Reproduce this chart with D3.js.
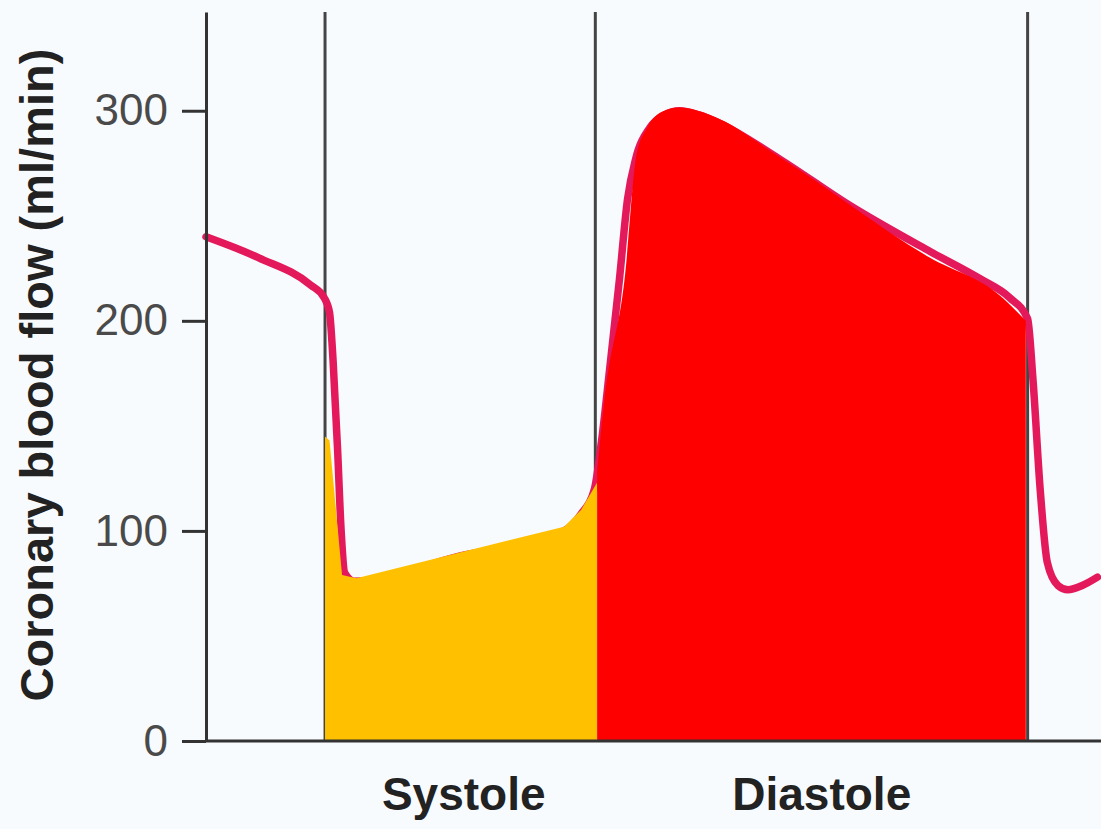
<!DOCTYPE html>
<html>
<head>
<meta charset="utf-8">
<script src="https://cdn.jsdelivr.net/npm/d3@7"></script>
<style>
  html, body { margin: 0; padding: 0; background: #f8fbfd; }
  svg { display: block; }
</style>
</head>
<body>
<svg id="chart" width="1101" height="829"></svg>
<script>
// time in arbitrary units (0 = y axis), flow in ml/min
var flowCurve = [
  [0, 240], [59, 230], [117, 217], [132, 211], [138, 204], [142, 181],
  [147, 139], [151, 100], [155, 80], [166, 76], [283, 88], [400, 100],
  [419, 108], [434, 120], [442, 143], [451, 177], [462, 220], [471, 258],
  [480, 277], [496, 292], [512, 298], [529, 300], [551, 298], [574, 294],
  [641, 277], [719, 255], [809, 233], [865, 220], [898, 211], [918, 201],
  [924, 172], [932, 120], [940, 85], [952, 74], [963, 72], [979, 74], [996, 78]
];
var systoleFill = [
  [133, 145], [138, 143], [152, 79], [168, 77.5], [400, 102], [419, 110], [437, 123]
];
var diastoleFill = [
  [437, 128], [445, 162], [468, 221], [481, 279], [493, 292], [512, 300],
  [529, 301.5], [566, 297.5], [641, 278], [809, 230], [887, 212], [916, 200]
];
var phaseLines = [133, 435, 918];
var phaseLabels = [
  { name: "Systole", t: 288 },
  { name: "Diastole", t: 688 }
];
var flowTicks = [0, 100, 200, 300];
var yLabel = "Coronary blood flow (ml/min)";

var svg = d3.select("#chart");
var x = d3.scaleLinear().domain([0, 1000]).range([206, 1101]);
var y = d3.scaleLinear().domain([0, 347]).range([741, 12]);

// phase divider lines
svg.selectAll(".phase")
  .data(phaseLines)
  .enter().append("line")
  .attr("x1", function (d) { return x(d); })
  .attr("x2", function (d) { return x(d); })
  .attr("y1", y(347))
  .attr("y2", y(0))
  .attr("stroke", "#444")
  .attr("stroke-width", 3);

// flow trace
var line = d3.line()
  .x(function (d) { return x(d[0]); })
  .y(function (d) { return y(d[1]); })
  .curve(d3.curveMonotoneX);
svg.append("path")
  .attr("d", line(flowCurve))
  .attr("fill", "none")
  .attr("stroke", "#e3195b")
  .attr("stroke-width", 7.5)
  .attr("stroke-linejoin", "round")
  .attr("stroke-linecap", "round");

// shaded areas under the trace
var area = d3.area()
  .x(function (d) { return x(d[0]); })
  .y0(y(0))
  .y1(function (d) { return y(d[1]); });
svg.append("path")
  .attr("d", area.curve(d3.curveLinear)(systoleFill))
  .attr("fill", "#ffc000");
svg.append("path")
  .attr("d", area.curve(d3.curveMonotoneX)(diastoleFill))
  .attr("fill", "#ff0000");

// baseline
svg.append("line")
  .attr("x1", x(0)).attr("x2", x(1000))
  .attr("y1", y(0)).attr("y2", y(0))
  .attr("stroke", "#333")
  .attr("stroke-width", 3);

// y axis
var yAxis = svg.append("g")
  .attr("transform", "translate(" + x(0) + ",0)")
  .call(d3.axisLeft(y).tickValues(flowTicks).tickSize(24).tickSizeOuter(0).tickPadding(14));
yAxis.select(".domain").attr("stroke", "#333").attr("stroke-width", 3);
yAxis.selectAll(".tick line").attr("stroke", "#333").attr("stroke-width", 3);
yAxis.selectAll(".tick text")
  .attr("fill", "#4a4a4a")
  .style("font-family", "'Liberation Sans', Arial, sans-serif")
  .style("font-size", "44px");

// y axis title
svg.append("text")
  .attr("transform", "translate(53," + 375 + ") rotate(-90)")
  .attr("text-anchor", "middle")
  .attr("fill", "#222")
  .style("font-family", "'Liberation Sans', Arial, sans-serif")
  .style("font-weight", "bold")
  .style("font-size", "47px")
  .text(yLabel);

// phase labels
svg.selectAll(".phase-label")
  .data(phaseLabels)
  .enter().append("text")
  .attr("x", function (d) { return x(d.t); })
  .attr("y", 810)
  .attr("text-anchor", "middle")
  .attr("fill", "#222")
  .style("font-family", "'Liberation Sans', Arial, sans-serif")
  .style("font-weight", "bold")
  .style("font-size", "46px")
  .text(function (d) { return d.name; });
</script>
</body>
</html>
